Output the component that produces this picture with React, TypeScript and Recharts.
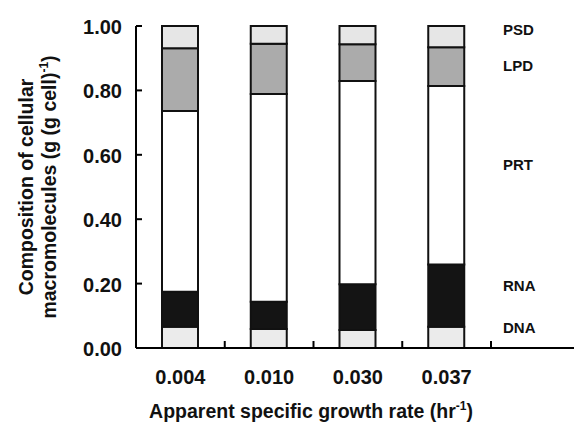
import React from "react";
import { BarChart, Bar, XAxis, YAxis, Label } from "recharts";

const categories = ["0.004", "0.010", "0.030", "0.037"];
const dna = [0.066, 0.059, 0.056, 0.066];
const rna = [0.109, 0.085, 0.142, 0.193];
const prt = [0.561, 0.645, 0.631, 0.555];
const lpd = [0.195, 0.156, 0.114, 0.120];
const psd = [0.069, 0.055, 0.057, 0.066];
const yTicks = [0, 0.2, 0.4, 0.6, 0.8, 1.0];
const seriesLabels = [
  { name: "PSD", y: 37 },
  { name: "LPD", y: 73 },
  { name: "PRT", y: 172 },
  { name: "RNA", y: 293 },
  { name: "DNA", y: 335 },
];

const data = categories.map((c, i) => ({
  cat: c,
  DNA: dna[i],
  RNA: rna[i],
  PRT: prt[i],
  LPD: lpd[i],
  PSD: psd[i],
}));

const W = 574;
const H = 429;
const LEFT = 136;
const RIGHT_PAD = 83;
const BAND = (W - LEFT - RIGHT_PAD) / categories.length;
const FONT = "'Liberation Sans', Arial, Helvetica, sans-serif";

const XTick = (props: any) => {
  const { x, y, payload } = props;
  return (
    <g>
      <line x1={x + BAND / 2} x2={x + BAND / 2} y1={y} y2={y - 7} stroke="#000" strokeWidth={2} />
      <text x={x} y={y + 36} textAnchor="middle" fontFamily={FONT} fontWeight="bold" fontSize={20} fill="#111">
        {payload.value}
      </text>
    </g>
  );
};

const YTick = (props: any) => {
  const { x, y, payload } = props;
  return (
    <g>
      <line x1={x} x2={x + 6} y1={y} y2={y} stroke="#000" strokeWidth={2} />
      <text x={x - 14} y={y + 8} textAnchor="end" fontFamily={FONT} fontWeight="bold" fontSize={20} fill="#111">
        {Number(payload.value).toFixed(2)}
      </text>
    </g>
  );
};

const YTitle = () => (
  <g transform="translate(0,187) rotate(-90)">
    <text x={0} y={33} textAnchor="middle" fontFamily={FONT} fontWeight="bold" fontSize={19.5} fill="#111">
      Composition of cellular
    </text>
    <text x={0} y={56} textAnchor="middle" fontFamily={FONT} fontWeight="bold" fontSize={19.5} fill="#111">
      macromolecules (g (g cell)
      <tspan fontSize={12} dy={-8}>-1</tspan>
      <tspan dy={8}>)</tspan>
    </text>
  </g>
);

const XTitle = () => (
  <text x={311} y={418} textAnchor="middle" fontFamily={FONT} fontWeight="bold" fontSize={19.5} fill="#111">
    Apparent specific growth rate (hr
    <tspan fontSize={12} dy={-8}>-1</tspan>
    <tspan dy={8}>)</tspan>
  </text>
);

export default function App() {
  const stroke = "#111";
  const sw = 2;
  return (
    <div style={{ position: "absolute", left: 0, top: 0, width: W, height: H, background: "#fff" }}>
      <BarChart width={W} height={H} data={data} margin={{ top: 26, right: 0, bottom: 0, left: 0 }} barSize={36}>
        <XAxis
          dataKey="cat"
          height={81}
          padding={{ left: 0, right: RIGHT_PAD }}
          axisLine={{ stroke: "#000", strokeWidth: 2 }}
          tickLine={false}
          tickSize={0}
          tickMargin={0}
          tick={<XTick />}
          interval={0}
        >
          <Label content={<XTitle />} />
        </XAxis>
        <YAxis
          width={LEFT}
          domain={[0, 1]}
          ticks={yTicks}
          axisLine={{ stroke: "#000", strokeWidth: 2 }}
          tickLine={false}
          tickSize={0}
          tickMargin={0}
          tick={<YTick />}
          interval={0}
        >
          <Label content={<YTitle />} />
        </YAxis>
        <Bar dataKey="DNA" stackId="a" fill="#ebebeb" stroke={stroke} strokeWidth={sw} isAnimationActive={false} />
        <Bar dataKey="RNA" stackId="a" fill="#141414" stroke={stroke} strokeWidth={sw} isAnimationActive={false} />
        <Bar dataKey="PRT" stackId="a" fill="#ffffff" stroke={stroke} strokeWidth={sw} isAnimationActive={false} />
        <Bar dataKey="LPD" stackId="a" fill="#ababab" stroke={stroke} strokeWidth={sw} isAnimationActive={false} />
        <Bar dataKey="PSD" stackId="a" fill="#e6e6e6" stroke={stroke} strokeWidth={sw} isAnimationActive={false} />
      </BarChart>
      {seriesLabels.map((l) => (
        <div
          key={l.name}
          style={{
            position: "absolute",
            left: 503,
            top: l.y - 17,
            fontFamily: FONT,
            fontWeight: "bold",
            fontSize: 15,
            lineHeight: "20px",
            color: "#111",
          }}
        >
          {l.name}
        </div>
      ))}
    </div>
  );
}
